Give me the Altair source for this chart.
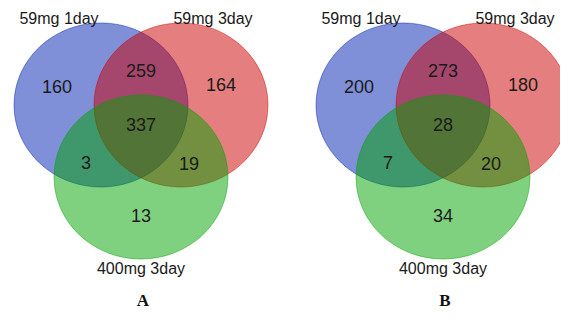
import altair as alt
import pandas as pd

# ---- data ----
panels = ["A", "B"]
set_names = ["59mg 1day", "59mg 3day", "400mg 3day"]
set_colors = ["#001fb1", "#cb0000", "#00a100"]
regions = ["1", "2", "3", "12", "13", "23", "123"]
counts_A = [160, 164, 13, 259, 3, 19, 337]
counts_B = [200, 180, 34, 273, 7, 20, 28]

# ---- layout (pixel-like coordinates) ----
panel_cx = [141, 443]
circle_dx = [-40, 40, 0]
circle_y = [105, 105, 177]
region_dx = [-84, 80, 0, 0, -55, 48, 0]
region_y = [88, 86, 217, 72, 164, 165, 126]
setlabel_dx = [-82, 72, 0]
setlabel_y = [19, 19, 269]
letter_dx = 2
letter_y = 301

circles = []
for p, cx in zip(panels, panel_cx):
    for i, s in enumerate(set_names):
        circles.append({"panel": p, "set": f"{p}-{s}", "color": set_names[i],
                        "x": cx + circle_dx[i], "y": circle_y[i], "order": i})
df_c = pd.DataFrame(circles)

nums = []
for p, cx, counts in zip(panels, panel_cx, [counts_A, counts_B]):
    for r, c, dx, y in zip(regions, counts, region_dx, region_y):
        nums.append({"panel": p, "region": r, "label": str(c), "x": cx + dx, "y": y})
df_n = pd.DataFrame(nums)

setlabels = []
for p, cx in zip(panels, panel_cx):
    for s, dx, y in zip(set_names, setlabel_dx, setlabel_y):
        setlabels.append({"panel": p, "label": s, "x": cx + dx, "y": y})
df_s = pd.DataFrame(setlabels)

df_l = pd.DataFrame({"label": panels, "x": [cx + letter_dx for cx in panel_cx], "y": [letter_y] * 2})

xs = alt.Scale(domain=[8, 560])
ys = alt.Scale(domain=[8, 312], reverse=True)
X = lambda: alt.X("x:Q", scale=xs, axis=None)
Y = lambda: alt.Y("y:Q", scale=ys, axis=None)

ellipse = "M-1,0A1,0.943,0,1,0,1,0A1,0.943,0,1,0,-1,0Z"

circ = alt.Chart(df_c).mark_point(
    shape=ellipse, size=174 * 174, filled=True, fillOpacity=0.5,
    strokeOpacity=0.45, strokeWidth=1
).encode(
    x=X(), y=Y(),
    fill=alt.Fill("color:N", scale=alt.Scale(domain=set_names, range=set_colors), legend=None),
    stroke=alt.Stroke("color:N", scale=alt.Scale(domain=set_names, range=set_colors), legend=None),
    order=alt.Order("order:Q"),
)

num_text = alt.Chart(df_n).mark_text(
    font="Liberation Sans", fontSize=18, color="#1a1a1a", baseline="middle", align="center"
).encode(x=X(), y=Y(), text="label:N")

set_text = alt.Chart(df_s).mark_text(
    font="Liberation Sans", fontSize=16, color="#1a1a1a", baseline="middle", align="center"
).encode(x=X(), y=Y(), text="label:N")

letter_text = alt.Chart(df_l).mark_text(
    font="Liberation Serif", fontSize=17, fontWeight="bold", color="#111111",
    baseline="middle", align="center"
).encode(x=X(), y=Y(), text="label:N")

chart = alt.layer(circ, num_text, set_text, letter_text).properties(
    width=552, height=304, padding=0, background="white",
    autosize=alt.AutoSizeParams(type="none")
).configure_view(stroke=None)

chart.save("out.html", embed_options={"renderer": "svg", "actions": False})
